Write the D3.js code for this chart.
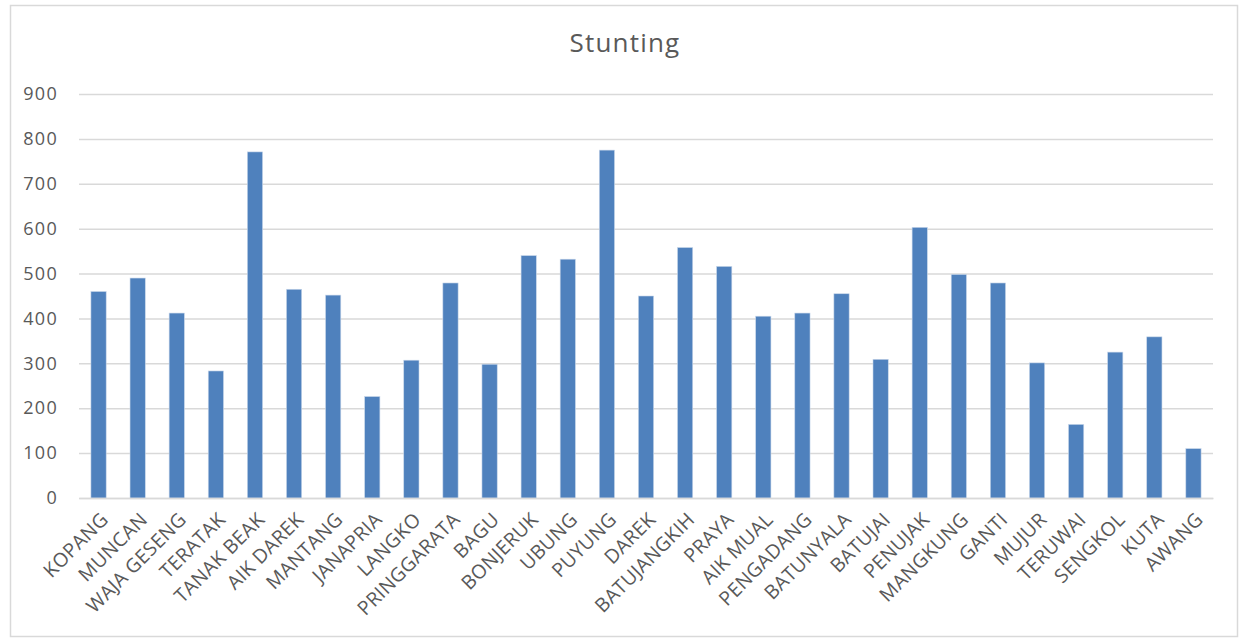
<!DOCTYPE html>
<html>
<head>
<meta charset="utf-8">
<script src="https://cdn.jsdelivr.net/npm/d3@7"></script>
<style>
  body { margin: 0; background: #fff; }
  svg { display: block; font-family: "Open Sans", "Liberation Sans", sans-serif; }
</style>
</head>
<body>
<svg id="bar-chart" width="1241" height="639"></svg>
<script>
// data
var desa = ["KOPANG", "MUNCAN", "WAJA GESENG", "TERATAK", "TANAK BEAK", "AIK DAREK",
  "MANTANG", "JANAPRIA", "LANGKO", "PRINGGARATA", "BAGU", "BONJERUK", "UBUNG",
  "PUYUNG", "DAREK", "BATUJANGKIH", "PRAYA", "AIK MUAL", "PENGADANG", "BATUNYALA",
  "BATUJAI", "PENUJAK", "MANGKUNG", "GANTI", "MUJUR", "TERUWAI", "SENGKOL", "KUTA", "AWANG"];
var stunting = [460, 490, 412, 283, 771, 465, 452, 226, 307, 479, 298, 540, 532,
  775, 450, 558, 516, 405, 412, 455, 309, 603, 498, 479, 301, 164, 325, 359, 110];
var yTicks = [0, 100, 200, 300, 400, 500, 600, 700, 800, 900];

var svg = d3.select("#bar-chart"),
    margin = { top: 94, right: 28, bottom: 141, left: 79 },
    width = +svg.attr("width") - margin.left - margin.right,
    height = +svg.attr("height") - margin.top - margin.bottom;

// chart frame
svg.append("rect")
    .attr("x", 10.5).attr("y", 5.5)
    .attr("width", 1227).attr("height", 631)
    .attr("fill", "#fff")
    .attr("stroke", "#d9d9d9")
    .attr("stroke-width", 1.5);

svg.append("text")
    .attr("x", 625)
    .attr("y", 52)
    .attr("text-anchor", "middle")
    .attr("font-size", "26px")
    .attr("letter-spacing", "1.2px")
    .attr("fill", "#595959")
    .text("Stunting");

var xScale = d3.scaleBand().domain(desa).range([0, width]).paddingInner(0.61).paddingOuter(0.305),
    yScale = d3.scaleLinear().domain([0, 900]).range([height, 0]);

var g = svg.append("g")
    .attr("transform", "translate(" + margin.left + "," + margin.top + ")");

// gridlines
g.append("g")
    .call(d3.axisLeft(yScale).tickValues(yTicks).tickSize(-width).tickFormat(""))
    .call(a => a.select(".domain").remove())
    .selectAll("line")
    .attr("stroke", "#d9d9d9")
    .attr("stroke-width", 1.5);

// y labels
g.append("g")
    .call(d3.axisLeft(yScale).tickValues(yTicks).tickSize(0).tickPadding(21))
    .call(a => a.select(".domain").remove())
    .selectAll("text")
    .attr("font-size", "18px")
    .attr("font-family", "\"Open Sans\", sans-serif")
    .attr("letter-spacing", "1.3px")
    .attr("fill", "#595959");

// bars
g.selectAll(".bar")
    .data(desa)
    .enter().append("rect")
    .attr("class", "bar")
    .attr("x", function (d) { return xScale(d); })
    .attr("y", function (d, i) { return yScale(stunting[i]); })
    .attr("width", xScale.bandwidth())
    .attr("height", function (d, i) { return height - yScale(stunting[i]); })
    .attr("fill", "#4f81bd")
    .attr("stroke", "#c9d7ea")
    .attr("stroke-width", 0.6);

// x axis
var xAxis = g.append("g")
    .attr("transform", "translate(0," + height + ")")
    .call(d3.axisBottom(xScale).tickSize(0).tickPadding(0));
xAxis.select(".domain")
    .attr("stroke", "#d9d9d9")
    .attr("stroke-width", 1.5);
xAxis.selectAll("text")
    .attr("font-size", "19.5px")
    .attr("font-family", "\"Open Sans\", sans-serif")
    .attr("letter-spacing", "0.3px")
    .attr("fill", "#595959")
    .style("text-anchor", "end")
    .attr("transform", "translate(6,18) rotate(-45)")
    .attr("dy", "0.35em")
    .attr("y", 0);
</script>
</body>
</html>
